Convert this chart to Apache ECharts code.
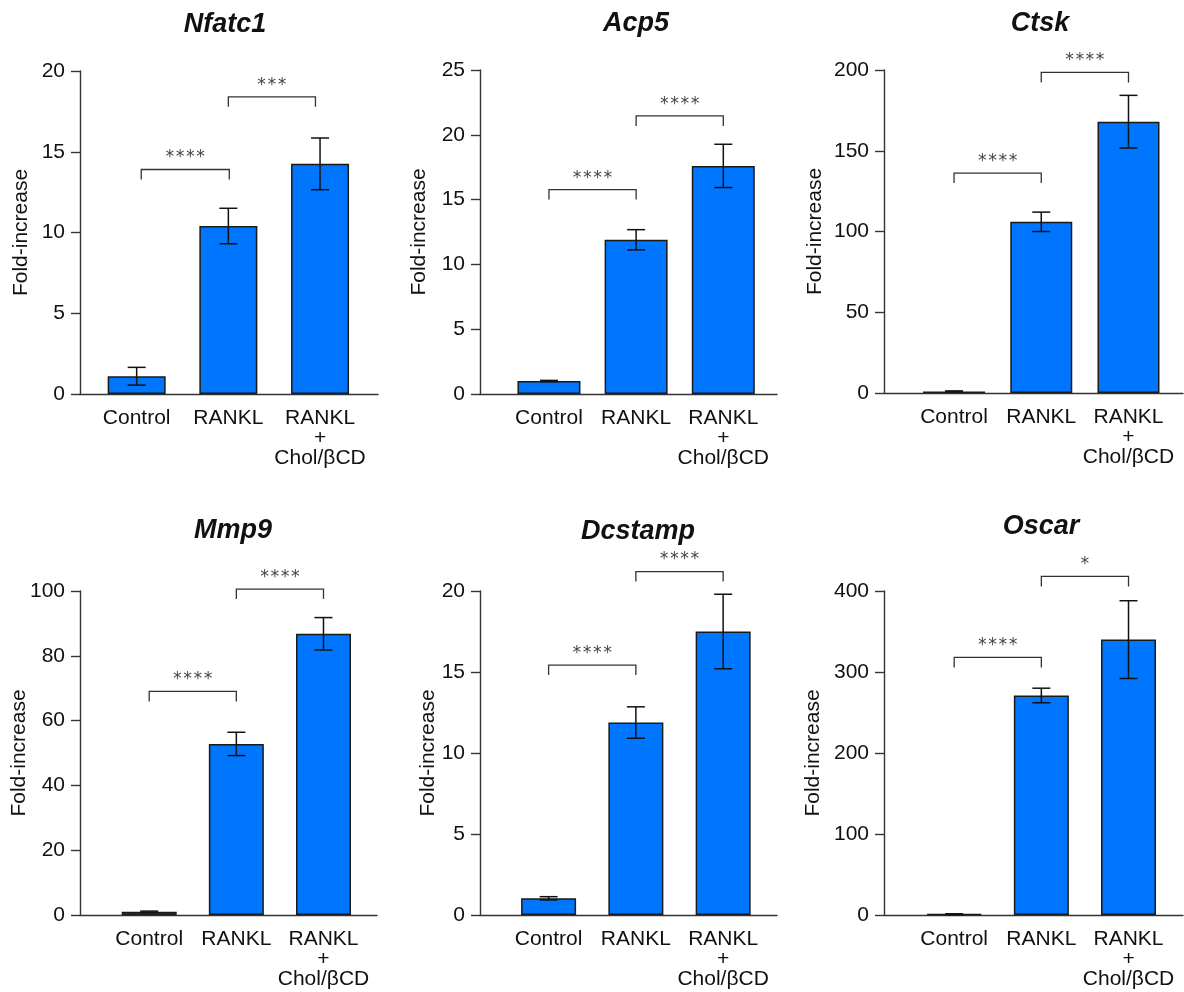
<!DOCTYPE html>
<html>
<head>
<meta charset="utf-8">
<title>Osteoclast marker genes</title>
<script src="https://cdn.jsdelivr.net/npm/echarts@6/dist/echarts.min.js"></script>
<style>
  html, body { margin: 0; padding: 0; background: #fff; }
  #chart { width: 1184px; height: 992px; }
</style>
</head>
<body>
<div id="chart"></div>
<script>
// data (mean, error)
const categories = ['Control', 'RANKL', 'RANKL\n+\nChol/βCD']
const genes = ['Nfatc1', 'Acp5', 'Ctsk', 'Mmp9', 'Dcstamp', 'Oscar']

const nfatc1 = [1.1, 10.4, 14.25]
const nfatc1Err = [0.55, 1.1, 1.6]
const acp5 = [1.0, 11.9, 17.6]
const acp5Err = [0.05, 0.78, 1.67]
const ctsk = [1, 106, 168]
const ctskErr = [0.3, 6, 16.3]
const mmp9 = [1, 52.8, 86.8]
const mmp9Err = [0.2, 3.6, 5]
const dcstamp = [1.03, 11.88, 17.5]
const dcstampErr = [0.1, 0.97, 2.3]
const oscar = [1, 271, 340]
const oscarErr = [0.5, 9, 48]

const yMax = [20, 25, 200, 100, 20, 400]
const yStep = [5, 5, 50, 20, 5, 100]

// brackets: [from category, to category, height, label]
const sigNfatc1 = [[1.05, 2.01, 13.9, '****'], [2.0, 2.95, 18.4, '***']]
const sigAcp5 = [[1, 2, 15.77, '****'], [2, 3, 21.46, '****']]
const sigCtsk = [[1, 2, 136.2, '****'], [2, 3, 198.5, '****']]
const sigMmp9 = [[1, 2, 69.0, '****'], [2, 3, 100.6, '****']]
const sigDcstamp = [[1, 2, 15.43, '****'], [2, 3, 21.2, '****']]
const sigOscar = [[1, 2, 318, '****'], [2, 3, 418, '*']]

const means = [nfatc1, acp5, ctsk, mmp9, dcstamp, oscar]
const errs = [nfatc1Err, acp5Err, ctskErr, mmp9Err, dcstampErr, oscarErr]
const sigs = [sigNfatc1, sigAcp5, sigCtsk, sigMmp9, sigDcstamp, sigOscar]

// panel geometry
const layout = [
  { left: 80, top: 71, width: 298, height: 323, xMin: 0.382, xMax: 3.632, barWidth: 58, nameGap: 48, titleX: 225, titleY: 25 },
  { left: 480, top: 70, width: 297, height: 324, xMin: 0.209, xMax: 3.616, barWidth: 63, nameGap: 50, titleX: 636, titleY: 24 },
  { left: 884, top: 70, width: 299, height: 323, xMin: 0.197, xMax: 3.625, barWidth: 62, nameGap: 58, titleX: 1040, titleY: 24 },
  { left: 80, top: 591, width: 297, height: 324, xMin: 0.206, xMax: 3.614, barWidth: 55, nameGap: 50, titleX: 233, titleY: 531 },
  { left: 480, top: 591, width: 297, height: 324, xMin: 0.214, xMax: 3.617, barWidth: 55, nameGap: 41, titleX: 638, titleY: 532 },
  { left: 884, top: 591, width: 299, height: 324, xMin: 0.195, xMax: 3.625, barWidth: 55, nameGap: 60, titleX: 1041, titleY: 527 },
]

const FONT = '"Liberation Sans", Arial, Helvetica, sans-serif'
const AXIS_COLOR = '#333'
const TEXT_COLOR = '#111'

const chart = echarts.init(document.getElementById('chart'), null, { renderer: 'canvas' })

const series = []
means.forEach((m, i) => {
  series.push({
    type: 'bar',
    xAxisIndex: i,
    yAxisIndex: i,
    barWidth: layout[i].barWidth,
    silent: true,
    data: m.map((v, k) => [k + 1, v]),
    itemStyle: { color: '#0076FF', borderColor: '#1a1a1a', borderWidth: 1.5 },
  })

  series.push({
    type: 'custom',
    xAxisIndex: i,
    yAxisIndex: i,
    silent: true,
    z: 5,
    encode: { x: 0, y: [1, 2] },
    data: m.map((v, k) => [k + 1, v - errs[i][k], v + errs[i][k]]),
    renderItem(params, api) {
      const lo = api.coord([api.value(0), api.value(1)])
      const hi = api.coord([api.value(0), api.value(2)])
      const style = { stroke: '#111', lineWidth: 1.5 }
      const cap = 9
      return {
        type: 'group',
        children: [
          { type: 'line', shape: { x1: lo[0], y1: lo[1], x2: hi[0], y2: hi[1] }, style },
          { type: 'line', shape: { x1: hi[0] - cap, y1: hi[1], x2: hi[0] + cap, y2: hi[1] }, style },
          { type: 'line', shape: { x1: lo[0] - cap, y1: lo[1], x2: lo[0] + cap, y2: lo[1] }, style },
        ],
      }
    },
  })

  series.push({
    type: 'custom',
    xAxisIndex: i,
    yAxisIndex: i,
    silent: true,
    clip: false,
    z: 6,
    encode: { x: [0, 1], y: 2 },
    data: sigs[i].map((s) => [s[0], s[1], s[2]]),
    renderItem(params, api) {
      const s = sigs[i][params.dataIndex]
      const a = api.coord([s[0], s[2]])
      const b = api.coord([s[1], s[2]])
      const leg = 10
      return {
        type: 'group',
        children: [
          {
            type: 'polyline',
            shape: { points: [[a[0], a[1] + leg], [a[0], a[1]], [b[0], b[1]], [b[0], b[1] + leg]] },
            style: { stroke: '#333', lineWidth: 1.3, fill: null },
          },
          {
            type: 'text',
            x: (a[0] + b[0]) / 2,
            y: a[1] - 3,
            style: {
              text: s[3],
              fill: '#444',
              font: '17px "DejaVu Sans Mono", monospace',
              align: 'center',
              verticalAlign: 'bottom',
            },
          },
        ],
      }
    },
  })
})

chart.setOption({
  animation: false,
  backgroundColor: '#fff',
  grid: layout.map((p) => ({
    left: p.left,
    top: p.top,
    width: p.width,
    height: p.height,
    containLabel: false,
    outerBoundsMode: 'none',
  })),
  xAxis: layout.map((p, i) => ({
    gridIndex: i,
    type: 'value',
    min: p.xMin,
    max: p.xMax,
    axisLine: { show: true, onZero: false, lineStyle: { color: AXIS_COLOR, width: 1.4 } },
    axisTick: { show: false },
    splitLine: { show: false },
    axisLabel: {
      customValues: [1, 2, 3],
      formatter: (v) => categories[Math.round(v) - 1] || '',
      color: TEXT_COLOR,
      fontFamily: FONT,
      fontSize: 21,
      lineHeight: 20,
      margin: 14,
    },
  })),
  yAxis: layout.map((p, i) => ({
    gridIndex: i,
    type: 'value',
    min: 0,
    max: yMax[i],
    interval: yStep[i],
    name: 'Fold-increase',
    nameLocation: 'middle',
    nameGap: p.nameGap,
    nameMoveOverlap: false,
    nameTextStyle: { color: TEXT_COLOR, fontFamily: FONT, fontSize: 21 },
    axisLine: { show: true, onZero: false, lineStyle: { color: AXIS_COLOR, width: 1.4 } },
    axisTick: { show: true, length: 9, lineStyle: { color: AXIS_COLOR, width: 1.4 } },
    splitLine: { show: false },
    axisLabel: { color: TEXT_COLOR, fontFamily: FONT, fontSize: 21, margin: 15 },
  })),
  graphic: layout.map((p, i) => ({
    type: 'text',
    x: p.titleX,
    y: p.titleY,
    style: {
      text: genes[i],
      fill: '#111',
      font: 'italic bold 27px ' + FONT,
      align: 'center',
      verticalAlign: 'middle',
    },
  })),
  series,
})
</script>
</body>
</html>
